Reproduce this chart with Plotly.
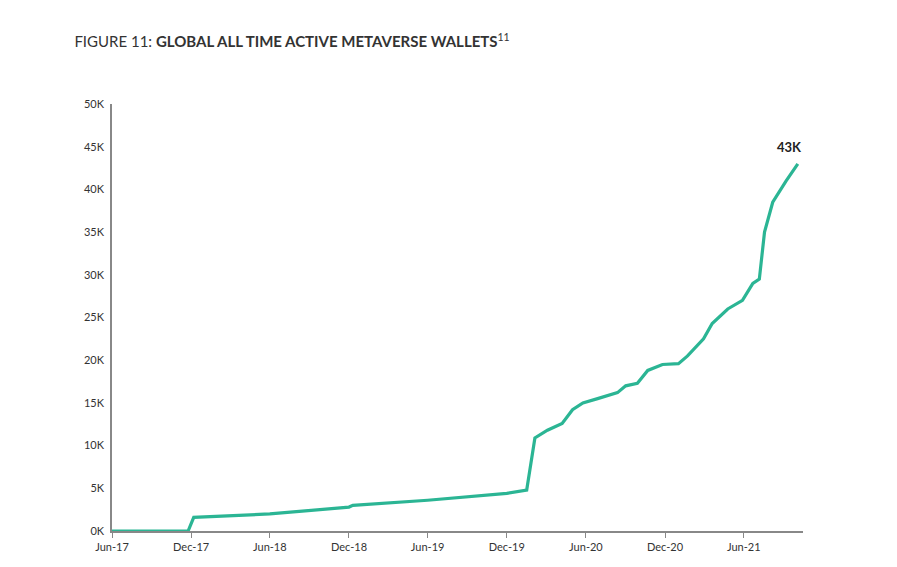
import plotly.graph_objects as go

dates = ["2017-06-01","2017-11-24","2017-12-07","2018-06-01","2018-12-01","2018-12-10",
         "2019-06-01","2019-12-01","2020-01-16","2020-02-04","2020-03-04","2020-04-07",
         "2020-05-01","2020-05-25","2020-06-28","2020-08-13","2020-09-01","2020-09-28",
         "2020-10-22","2020-11-25","2021-01-01","2021-01-22","2021-02-28","2021-03-20",
         "2021-04-25","2021-05-29","2021-06-22","2021-07-07","2021-07-19","2021-08-07",
         "2021-09-07","2021-10-04"]
wallets = [0,0,1600,2000,2800,3000,3600,4400,4800,10900,11800,12600,14200,15000,15500,
           16200,17000,17300,18800,19500,19600,20500,22500,24300,26000,27000,29000,29500,
           35000,38500,41000,43000]
tick_vals = ["2017-06-01","2017-12-01","2018-06-01","2018-12-01","2019-06-01","2019-12-01",
             "2020-06-01","2020-12-01","2021-06-01"]
tick_text = ["Jun-17","Dec-17","Jun-18","Dec-18","Jun-19","Dec-19","Jun-20","Dec-20","Jun-21"]
y_ticks = list(range(0, 50001, 5000))
y_text = [f"{v//1000}K" for v in y_ticks]

fig = go.Figure(go.Scatter(x=dates, y=wallets, mode="lines",
                           line=dict(color="#2bb594", width=3.2), hoverinfo="skip"))
fig.add_annotation(x=dates[-1], y=wallets[-1], text="<b>43K</b>", showarrow=False,
                   yshift=17, xshift=-8, font=dict(size=13, color="#222"))
fig.update_layout(
    width=897, height=567, paper_bgcolor="white", plot_bgcolor="white",
    margin=dict(l=104, r=102, t=96, b=44, autoexpand=False), showlegend=False,
    font=dict(family="Lato, sans-serif", size=11, color="#333"),
    title=dict(text="FIGURE 11: <b>GLOBAL ALL TIME ACTIVE METAVERSE WALLETS</b><sup>11</sup>",
               x=0.074, xanchor="left", y=0.95, yanchor="top",
               font=dict(size=15, color="#333")),
)
fig.update_xaxes(range=["2017-06-01","2021-10-16"], tickvals=tick_vals, ticktext=tick_text,
                 showgrid=False, showline=True, linecolor="#888", linewidth=1.5,
                 ticks="outside", ticklen=5, tickcolor="#888", zeroline=False, automargin=False)
fig.update_yaxes(range=[0,50000], tickvals=y_ticks, ticktext=y_text, showgrid=False,
                 showline=True, linecolor="#888", linewidth=1.5, zeroline=False,
                 ticks="", ticklabelstandoff=4, automargin=False)
fig.write_html("out.html")
